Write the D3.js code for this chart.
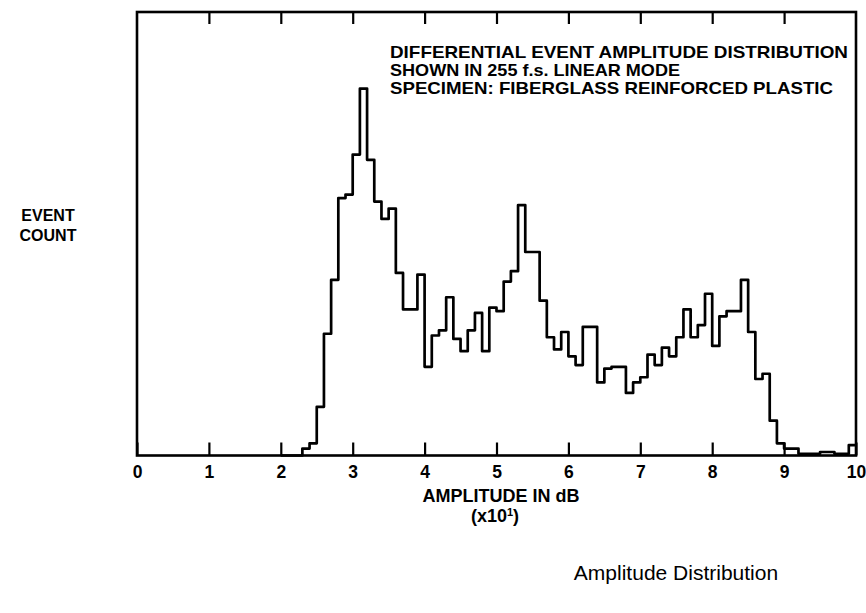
<!DOCTYPE html>
<html>
<head>
<meta charset="utf-8">
<script src="https://cdn.jsdelivr.net/npm/d3@7"></script>
<style>
  body { margin: 0; background: #fff; }
  svg { display: block; }
  text { font-family: "Liberation Sans", Arial, Helvetica, sans-serif; fill: #000; }
</style>
</head>
<body>
<svg id="chart" width="866" height="613"></svg>
<script>
// Amplitude bins (lower edge, dB) and event counts per 1 dB bin, 255 full scale
const amplitudeDb = [20, 21, 22, 23, 24, 25, 26, 27, 28, 29,
                     30, 31, 32, 33, 34, 35, 36, 37, 38, 39,
                     40, 41, 42, 43, 44, 45, 46, 47, 48, 49,
                     50, 51, 52, 53, 54, 55, 56, 57, 58, 59,
                     60, 61, 62, 63, 64, 65, 66, 67, 68, 69,
                     70, 71, 72, 73, 74, 75, 76, 77, 78, 79,
                     80, 81, 82, 83, 84, 85, 86, 87, 88, 89,
                     90, 91, 92, 93, 94, 95, 96, 97, 98, 99];
const eventCounts = [0, 0, 0, 4, 7, 28, 70, 101, 148, 150,
                     173, 211, 170, 146, 136, 142, 105, 84, 84, 104,
                     51, 69, 72, 91, 67, 60, 72, 82, 60, 85,
                     83, 100, 106, 144, 117, 117, 89, 68, 61, 71,
                     57, 52, 74, 74, 42, 50, 51, 51, 36, 42,
                     45, 58, 52, 62, 57, 68, 84, 68, 75, 93,
                     63, 80, 83, 83, 101, 71, 44, 47, 20, 7,
                     4, 4, 1, 1, 1, 2, 2, 1, 1, 6];
const tickLabels = ["0", "1", "2", "3", "4", "5", "6", "7", "8", "9", "10"];
const fullScale = 255;

const annotation = [
  "DIFFERENTIAL EVENT AMPLITUDE DISTRIBUTION",
  "SHOWN IN 255 f.s. LINEAR MODE",
  "SPECIMEN: FIBERGLASS REINFORCED PLASTIC"
];
const annotationWidths = [458, 290, 443];

const svg = d3.select("#chart");
const frame = { left: 137, right: 856, top: 12, bottom: 455.5 };

const x = d3.scaleLinear().domain([0, 100]).range([frame.left, frame.right]);
const xTick = d3.scaleLinear().domain([0, 10]).range([frame.left, frame.right]);
const y = d3.scaleLinear().domain([0, fullScale]).range([frame.bottom, frame.top]);

// Plot frame
svg.append("rect")
  .attr("x", frame.left).attr("y", frame.top)
  .attr("width", frame.right - frame.left).attr("height", frame.bottom - frame.top)
  .attr("fill", "none").attr("stroke", "#000").attr("stroke-width", 2.6);

// Bottom axis: inward ticks, labels below
const bottomAxis = svg.append("g")
  .attr("transform", `translate(0,${frame.bottom})`)
  .call(d3.axisBottom(xTick)
    .tickValues(d3.range(tickLabels.length))
    .tickFormat((d, i) => tickLabels[i])
    .tickSizeInner(-13).tickSizeOuter(0).tickPadding(10));
bottomAxis.select(".domain").remove();
bottomAxis.selectAll(".tick line").attr("stroke", "#000").attr("stroke-width", 2.2);
bottomAxis.selectAll(".tick text")
  .style("font-size", "17.5px").style("font-weight", "bold")
  .attr("fill", "#000");

// Top axis: inward ticks only
const topAxis = svg.append("g")
  .attr("transform", `translate(0,${frame.top})`)
  .call(d3.axisTop(xTick)
    .tickValues(d3.range(1, tickLabels.length - 1))
    .tickFormat("")
    .tickSizeInner(-12).tickSizeOuter(0));
topAxis.select(".domain").remove();
topAxis.selectAll(".tick line").attr("stroke", "#000").attr("stroke-width", 2.2);

// Histogram outline drawn as steps
const pts = amplitudeDb.map((a, i) => [a, eventCounts[i]]);
pts.push([100, eventCounts[eventCounts.length - 1]]);
const step = d3.line()
  .x(d => x(d[0]))
  .y(d => y(d[1]))
  .curve(d3.curveStepAfter);
svg.append("path")
  .attr("d", step(pts))
  .attr("fill", "none")
  .attr("stroke", "#000")
  .attr("stroke-width", 2.7)
  .attr("stroke-linejoin", "round");

// Annotation block
svg.append("g").selectAll("text")
  .data(annotation)
  .join("text")
  .attr("x", 390)
  .attr("y", (d, i) => 57.5 + i * 18.4)
  .attr("textLength", (d, i) => annotationWidths[i])
  .attr("lengthAdjust", "spacingAndGlyphs")
  .style("font-size", "16.4px")
  .style("font-weight", "bold")
  .text(d => d);

// Y axis label
svg.append("g").selectAll("text")
  .data(["EVENT", "COUNT"])
  .join("text")
  .attr("x", 48)
  .attr("y", (d, i) => 221 + i * 19.5)
  .attr("text-anchor", "middle")
  .style("font-size", "16px")
  .style("font-weight", "bold")
  .text(d => d);

// X axis title
svg.append("text")
  .attr("x", 501).attr("y", 502)
  .attr("text-anchor", "middle")
  .style("font-size", "18px").style("font-weight", "bold")
  .text("AMPLITUDE IN dB");
const unit = svg.append("text")
  .attr("x", 495).attr("y", 522)
  .attr("text-anchor", "middle")
  .style("font-size", "18px").style("font-weight", "bold");
unit.append("tspan").text("(x10");
unit.append("tspan").attr("dy", -6).style("font-size", "11px").text("1");
unit.append("tspan").attr("dy", 6).text(")");

// Caption
svg.append("text")
  .attr("x", 676).attr("y", 580)
  .attr("text-anchor", "middle")
  .style("font-size", "21px")
  .text("Amplitude Distribution");
</script>
</body>
</html>
